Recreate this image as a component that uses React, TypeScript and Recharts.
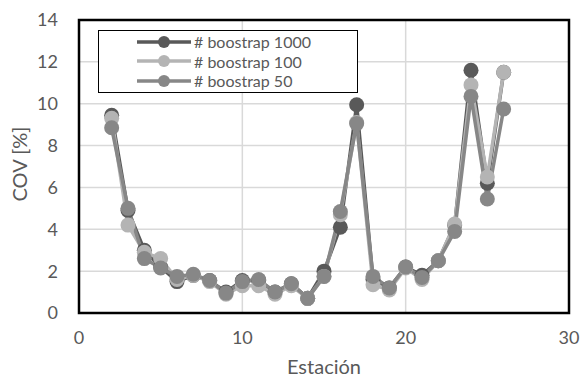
import React from 'react';
import { LineChart, Line, XAxis, YAxis, CartesianGrid } from 'recharts';

const stations = [2, 3, 4, 5, 6, 7, 8, 9, 10, 11, 12, 13, 14, 15, 16, 17, 18, 19, 20, 21, 22, 23, 24, 25, 26];
const cov1000 = [9.45, 4.9, 3.0, 2.2, 1.5, 1.8, 1.55, 1.0, 1.55, 1.55, 1.0, 1.4, 0.7, 2.0, 4.1, 9.95, 1.6, 1.2, 2.2, 1.8, 2.5, 4.2, 11.6, 6.2, 11.5];
const cov100 = [9.3, 4.2, 2.9, 2.6, 1.6, 1.8, 1.5, 0.9, 1.3, 1.3, 0.9, 1.3, 0.7, 1.75, 4.7, 9.1, 1.35, 1.1, 2.15, 1.6, 2.5, 4.25, 10.9, 6.5, 11.5];
const cov50 = [8.85, 5.0, 2.6, 2.15, 1.75, 1.85, 1.55, 0.95, 1.5, 1.6, 1.0, 1.4, 0.7, 1.75, 4.85, 9.05, 1.75, 1.2, 2.2, 1.7, 2.5, 3.9, 10.35, 5.45, 9.75];

const xTicks = [0, 10, 20, 30];
const yTicks = [0, 2, 4, 6, 8, 10, 12, 14];

const series = [
  { key: 'b1000', name: '# boostrap 1000', color: '#595959' },
  { key: 'b100', name: '# boostrap 100', color: '#b4b4b4' },
  { key: 'b50', name: '# boostrap 50', color: '#878787' },
];

const data = stations.map((s, i) => ({ x: s, b1000: cov1000[i], b100: cov100[i], b50: cov50[i] }));

const font = 'Lato, "Open Sans", sans-serif';

function LegendBox() {
  return (
    <div style={{ position: 'absolute', left: 98, top: 30, width: 260, height: 63, border: '1.5px solid #000', boxSizing: 'border-box', background: '#fff', fontFamily: font, fontSize: 16, color: '#595959', paddingTop: 1 }}>
      {series.map((s) => (
        <div key={s.key} style={{ display: 'flex', alignItems: 'center', height: 19.5, marginLeft: 38 }}>
          <svg width={56} height={16}>
            <line x1={0} y1={8} x2={54} y2={8} stroke={s.color} strokeWidth={3.5} />
            <circle cx={27} cy={8} r={6} fill={s.color} />
          </svg>
          <span style={{ marginLeft: 1, lineHeight: '19px' }}>{s.name}</span>
        </div>
      ))}
    </div>
  );
}

export default function App() {
  return (
    <div style={{ position: 'absolute', left: 0, top: 0, width: 584, height: 379, background: '#fff' }}>
      <LineChart width={584} height={379} data={data} margin={{ top: 20, right: 15, bottom: 0, left: 0 }}>
        <CartesianGrid stroke="#d9d9d9" strokeWidth={1.5} verticalValues={[10, 20]} />
        <XAxis
          type="number"
          dataKey="x"
          domain={[0, 30]}
          ticks={xTicks}
          height={66}
          axisLine={{ stroke: '#000000', strokeWidth: 2 }}
          tickLine={false}
          tickSize={0}
          tickMargin={18}
          tick={{ fill: '#595959', fontSize: 18, fontFamily: font }}
          label={{ value: 'Estación', position: 'insideBottom', offset: 5, fill: '#595959', fontSize: 20, fontFamily: font }}
        />
        <YAxis
          type="number"
          domain={[0, 14]}
          ticks={yTicks}
          width={79}
          axisLine={{ stroke: '#000000', strokeWidth: 2 }}
          tickLine={false}
          tickSize={0}
          tickMargin={21}
          tick={{ fill: '#595959', fontSize: 18, fontFamily: font }}
          label={{ value: 'COV [%]', angle: -90, position: 'insideLeft', offset: 20, dy: 35, fill: '#595959', fontSize: 20, fontFamily: font }}
        />
        {series.map((s) => (
          <Line
            key={s.key}
            type="linear"
            dataKey={s.key}
            name={s.name}
            stroke={s.color}
            strokeWidth={3.5}
            dot={{ r: 7.5, fill: s.color, stroke: s.color, strokeWidth: 0 }}
            activeDot={false}
            isAnimationActive={false}
          />
        ))}
      </LineChart>
      <svg width={584} height={379} style={{ position: 'absolute', left: 0, top: 0, zIndex: 5, pointerEvents: 'none' }}>
        <rect x={79} y={20} width={490} height={293} fill="none" stroke="#000000" strokeWidth={2.5} />
      </svg>
      <div style={{ position: 'absolute', left: 0, top: 0, zIndex: 6 }}>
        <LegendBox />
      </div>
    </div>
  );
}
